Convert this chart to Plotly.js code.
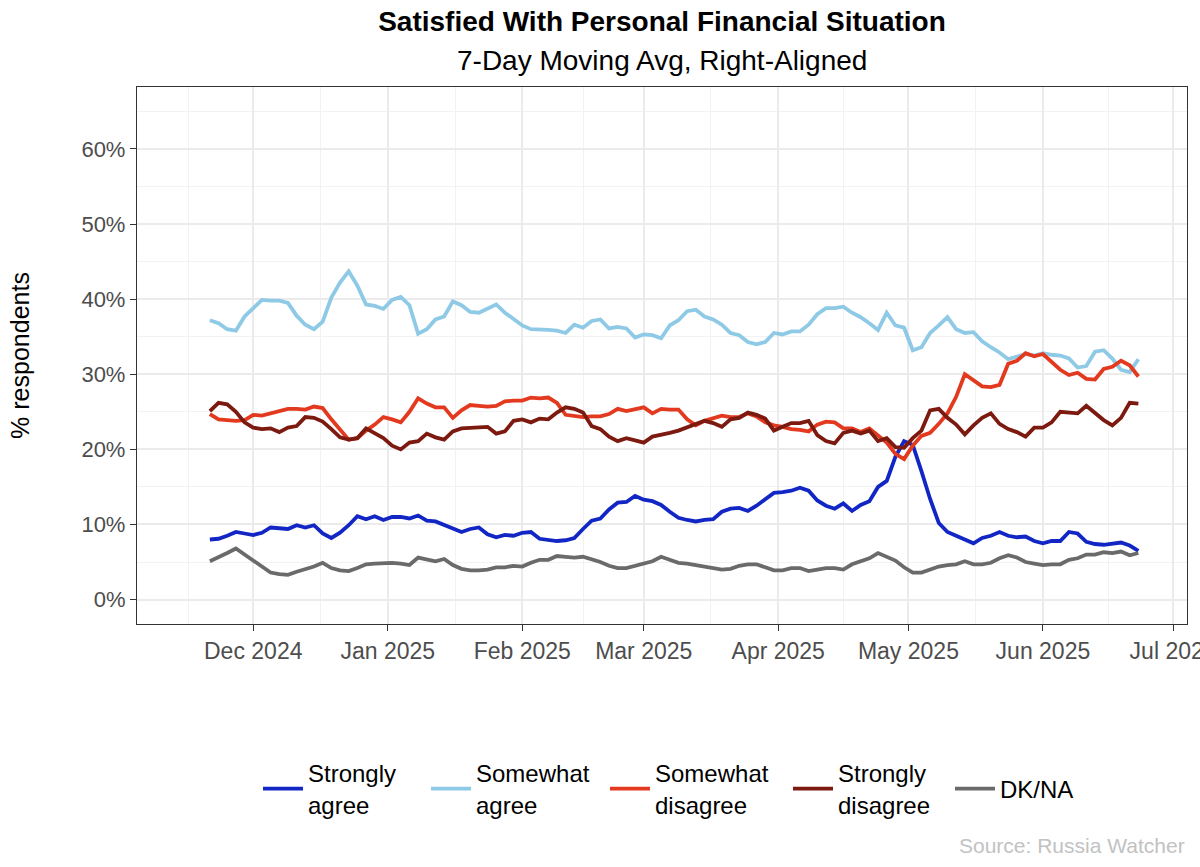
<!DOCTYPE html>
<html>
<head>
<meta charset="utf-8">
<script src="https://cdn.plot.ly/plotly-3.0.1.min.js"></script>
<style>
  html, body { margin: 0; padding: 0; background: #ffffff; }
  #chart { width: 1200px; height: 867px; }
</style>
</head>
<body>
<div id="chart"></div>
<script>
// Survey dates (every second day of the 7-day right-aligned moving average)
const dates = [
  '2024-11-21','2024-11-23','2024-11-25','2024-11-27','2024-11-29',
  '2024-12-01','2024-12-03','2024-12-05','2024-12-07','2024-12-09','2024-12-11','2024-12-13','2024-12-15',
  '2024-12-17','2024-12-19','2024-12-21','2024-12-23','2024-12-25','2024-12-27','2024-12-29','2024-12-31',
  '2025-01-02','2025-01-04','2025-01-06','2025-01-08','2025-01-10','2025-01-12','2025-01-14','2025-01-16',
  '2025-01-18','2025-01-20','2025-01-22','2025-01-24','2025-01-26','2025-01-28','2025-01-30',
  '2025-02-01','2025-02-03','2025-02-05','2025-02-07','2025-02-09','2025-02-11','2025-02-13','2025-02-15',
  '2025-02-17','2025-02-19','2025-02-21','2025-02-23','2025-02-25','2025-02-27',
  '2025-03-01','2025-03-03','2025-03-05','2025-03-07','2025-03-09','2025-03-11','2025-03-13','2025-03-15',
  '2025-03-17','2025-03-19','2025-03-21','2025-03-23','2025-03-25','2025-03-27','2025-03-29','2025-03-31',
  '2025-04-02','2025-04-04','2025-04-06','2025-04-08','2025-04-10','2025-04-12','2025-04-14','2025-04-16',
  '2025-04-18','2025-04-20','2025-04-22','2025-04-24','2025-04-26','2025-04-28','2025-04-30',
  '2025-05-02','2025-05-04','2025-05-06','2025-05-08','2025-05-10','2025-05-12','2025-05-14','2025-05-16',
  '2025-05-18','2025-05-20','2025-05-22','2025-05-24','2025-05-26','2025-05-28','2025-05-30',
  '2025-06-01','2025-06-03','2025-06-05','2025-06-07','2025-06-09','2025-06-11','2025-06-13','2025-06-15',
  '2025-06-17','2025-06-19','2025-06-21','2025-06-23'
];

// Share of respondents, %
const stronglyAgree = [
  8.0, 8.1, 8.5, 9.0, 8.8, 8.6, 8.9, 9.6, 9.5, 9.4, 9.9, 9.6, 9.9, 8.8, 8.2, 8.9, 9.9, 11.1, 10.7, 11.1, 10.6,
  11.0, 11.0, 10.8, 11.2, 10.5, 10.4, 9.9, 9.4, 9.0, 9.4, 9.6, 8.7, 8.3, 8.6, 8.5, 8.9, 9.0, 8.1, 7.9, 7.8, 7.9, 8.2, 9.4,
  10.5, 10.8, 12.0, 12.9, 13.0, 13.8, 13.3, 13.1, 12.6, 11.7, 10.9, 10.6, 10.4, 10.6, 10.7, 11.7, 12.1, 12.2, 11.8, 12.5, 13.4, 14.2,
  14.3, 14.5, 14.9, 14.5, 13.2, 12.5, 12.1, 12.8, 11.8, 12.6, 13.1, 15.0, 15.8, 19.0, 21.1, 20.6, 17.1, 13.4, 10.2, 9.0, 8.5, 8.0,
  7.5, 8.2, 8.5, 9.0, 8.5, 8.3, 8.4, 7.8, 7.5, 7.8, 7.8, 9.0, 8.8, 7.7, 7.4, 7.3, 7.4, 7.6, 7.2, 6.5
];
const somewhatAgree = [
  37.2, 36.8, 36.0, 35.8, 37.7, 38.8, 39.9, 39.8, 39.8, 39.5, 37.8, 36.6, 36.0, 37.0, 40.2, 42.2, 43.7, 41.8, 39.3, 39.1, 38.7,
  39.9, 40.3, 39.2, 35.4, 36.0, 37.3, 37.7, 39.7, 39.2, 38.3, 38.2, 38.8, 39.3, 38.2, 37.4, 36.5, 36.0, 36.0, 35.9, 35.8, 35.5, 36.6, 36.2,
  37.1, 37.3, 36.1, 36.3, 36.1, 34.9, 35.3, 35.2, 34.8, 36.5, 37.2, 38.4, 38.6, 37.7, 37.3, 36.6, 35.5, 35.2, 34.3, 34.0, 34.3, 35.5,
  35.3, 35.7, 35.7, 36.6, 38.0, 38.8, 38.8, 39.0, 38.2, 37.6, 36.8, 35.9, 38.2, 36.5, 36.2, 33.2, 33.6, 35.5, 36.5, 37.6, 36.0, 35.5,
  35.6, 34.4, 33.6, 32.9, 32.0, 32.3, 32.7, 32.5, 32.8, 32.6, 32.5, 32.1, 30.9, 31.1, 33.0, 33.2, 32.1, 30.6, 30.3, 32.0
];
const somewhatDisagree = [
  24.7, 24.0, 23.9, 23.8, 23.9, 24.6, 24.5, 24.8, 25.1, 25.4, 25.4, 25.3, 25.7, 25.5, 24.0, 22.7, 21.3, 21.5, 22.5, 23.3, 24.3,
  24.0, 23.6, 25.0, 26.8, 26.1, 25.6, 25.6, 24.2, 25.2, 25.9, 25.8, 25.7, 25.8, 26.4, 26.5, 26.5, 26.9, 26.8, 26.9, 26.2, 24.6, 24.4, 24.3,
  24.4, 24.4, 24.7, 25.4, 25.1, 25.3, 25.6, 24.8, 25.4, 25.3, 25.3, 24.0, 23.2, 23.8, 24.2, 24.5, 24.3, 24.3, 24.8, 24.4, 23.6, 23.2,
  23.0, 22.7, 22.6, 22.4, 23.3, 23.7, 23.6, 22.8, 22.8, 22.3, 22.8, 21.8, 20.9, 19.4, 18.7, 20.5, 21.8, 22.2, 23.4, 24.8, 27.0, 30.0,
  29.2, 28.4, 28.3, 28.6, 31.4, 31.8, 32.8, 32.4, 32.7, 31.6, 30.6, 29.9, 30.2, 29.4, 29.3, 30.7, 31.0, 31.8, 31.2, 29.7
];
const stronglyDisagree = [
  25.1, 26.2, 26.0, 25.0, 23.6, 22.9, 22.7, 22.8, 22.3, 22.9, 23.1, 24.3, 24.2, 23.7, 22.7, 21.6, 21.3, 21.5, 22.8, 22.1, 21.5,
  20.5, 20.0, 20.9, 21.1, 22.1, 21.6, 21.3, 22.4, 22.8, 22.9, 22.9, 23.0, 22.1, 22.4, 23.8, 24.0, 23.6, 24.1, 24.0, 24.9, 25.6, 25.4, 24.9,
  23.1, 22.7, 21.7, 21.1, 21.5, 21.2, 20.9, 21.7, 21.9, 22.2, 22.5, 22.9, 23.4, 23.8, 23.5, 23.0, 24.0, 24.2, 24.9, 24.6, 24.1, 22.5,
  23.0, 23.5, 23.5, 23.8, 21.9, 21.1, 20.8, 22.2, 22.5, 22.1, 22.5, 21.1, 21.5, 20.3, 20.2, 21.5, 22.5, 25.2, 25.4, 24.2, 23.3, 22.0,
  23.2, 24.2, 24.8, 23.4, 22.7, 22.3, 21.7, 22.9, 22.9, 23.6, 25.0, 24.9, 24.8, 25.8, 24.9, 23.9, 23.2, 24.2, 26.2, 26.1
];
const dkNa = [
  5.1, 5.6, 6.2, 6.8, 6.0, 5.2, 4.3, 3.6, 3.4, 3.3, 3.7, 4.0, 4.4, 4.9, 4.2, 3.9, 3.8, 4.2, 4.7, 4.8, 4.9,
  4.9, 4.8, 4.6, 5.6, 5.3, 5.1, 5.4, 4.6, 4.1, 3.9, 3.9, 4.0, 4.3, 4.3, 4.5, 4.4, 4.9, 5.3, 5.3, 5.8, 5.7, 5.6, 5.7,
  5.4, 5.0, 4.5, 4.2, 4.2, 4.5, 4.9, 5.1, 5.7, 5.3, 4.9, 4.8, 4.6, 4.5, 4.3, 4.0, 4.1, 4.5, 4.7, 4.7, 4.3, 3.9,
  3.9, 4.2, 4.2, 3.8, 4.0, 4.2, 4.2, 4.0, 4.7, 5.1, 5.5, 6.2, 5.7, 5.2, 4.3, 3.6, 3.6, 4.0, 4.4, 4.6, 4.7, 5.1,
  4.7, 4.7, 4.9, 5.5, 5.9, 5.6, 5.0, 4.8, 4.6, 4.7, 4.7, 5.3, 5.5, 6.0, 6.0, 6.3, 6.2, 6.4, 5.9, 6.2
];

const seriesNames = ['Strongly<br>agree', 'Somewhat<br>agree', 'Somewhat<br>disagree', 'Strongly<br>disagree', 'DK/NA'];
const seriesValues = [stronglyAgree, somewhatAgree, somewhatDisagree, stronglyDisagree, dkNa];
const seriesColors = ['#1126c4', '#8ecae6', '#e2391f', '#7c1a10', '#6a6a6a'];
// Room reserved for each legend label (0 = fit to text)
const legendWidths = [113, 124, 128, 107, 0];
// The single-line key sits in its own legend so it centres on the same row
const legendGroups = ['legend', 'legend', 'legend', 'legend', 'legend2'];

// Minor vertical grid lines sit halfway between month starts
const monthStarts = ['2024-11-01','2024-12-01','2025-01-01','2025-02-01','2025-03-01',
                     '2025-04-01','2025-05-01','2025-06-01','2025-07-01','2025-08-01'];
const midMonths = [];
for (let i = 0; i < monthStarts.length - 1; i++) {
  const t = (Date.parse(monthStarts[i]) + Date.parse(monthStarts[i + 1])) / 2;
  midMonths.push(new Date(t).toISOString().slice(0, 19).replace('T', ' '));
}

const traces = seriesNames.map((name, i) => {
  const tr = {
    type: 'scatter',
    mode: 'lines',
    name: name,
    x: dates,
    y: seriesValues[i],
    legend: legendGroups[i],
    line: { color: seriesColors[i], width: 3.8 },
    hovertemplate: '%{x|%b %d, %Y}: %{y:.1f}%<extra></extra>'
  };
  if (legendWidths[i]) tr.legendwidth = legendWidths[i];
  return tr;
});

const FONT = 'Liberation Sans, Arial, Helvetica, sans-serif';
const TICK_COLOR = '#4d4d4d';
const GRID = '#ebebeb';
const LEGEND_Y = 1 - 789 / 867;

const legendBase = {
  orientation: 'h',
  xref: 'container', xanchor: 'left',
  yref: 'container', y: LEGEND_Y, yanchor: 'middle',
  font: { family: FONT, size: 24, color: '#000000' },
  itemwidth: 40,
  traceorder: 'normal',
  bgcolor: 'rgba(0,0,0,0)'
};

const layout = {
  width: 1200,
  height: 867,
  paper_bgcolor: '#ffffff',
  plot_bgcolor: '#ffffff',
  font: { family: FONT, color: '#000000' },
  margin: { l: 137, r: 13, t: 87, b: 243, autoexpand: false },
  showlegend: true,
  title: {
    text: '<b>Satisfied With Personal Financial Situation</b>',
    font: { family: FONT, size: 28, color: '#000000' },
    xref: 'paper', x: 0.5, xanchor: 'center',
    yref: 'container', y: 1 - 21 / 867, yanchor: 'middle'
  },
  annotations: [
    {
      text: '7-Day Moving Avg, Right-Aligned',
      xref: 'paper', x: 0.5, xanchor: 'center',
      yref: 'paper', y: (624 - 60) / 537, yanchor: 'middle',
      showarrow: false,
      font: { family: FONT, size: 28, color: '#000000' }
    },
    {
      text: 'Source: Russia Watcher',
      xref: 'paper', x: 1, xanchor: 'right',
      yref: 'paper', y: (624 - 845) / 537, yanchor: 'middle',
      showarrow: false,
      font: { family: FONT, size: 21, color: '#c2c2c2' }
    }
  ],
  xaxis: {
    type: 'date',
    range: ['2024-11-04 05:00', '2025-07-04 05:00'],
    tick0: '2024-12-01',
    dtick: 'M1',
    tickformat: '%b %Y',
    ticks: 'outside', ticklen: 6, tickwidth: 1.3, tickcolor: '#333333',
    tickfont: { family: FONT, size: 23, color: TICK_COLOR },
    ticklabeloverflow: 'allow',
    showgrid: true, gridcolor: GRID, gridwidth: 1.6,
    minor: { tickmode: 'array', tickvals: midMonths, showgrid: true, gridcolor: '#f2f2f2', gridwidth: 1, ticks: '' },
    showline: true, linecolor: '#333333', linewidth: 1.3, mirror: true,
    zeroline: false, fixedrange: true
  },
  yaxis: {
    range: [-3.25, 68.25],
    tickmode: 'array',
    tickvals: [0, 10, 20, 30, 40, 50, 60],
    ticktext: ['0%', '10%', '20%', '30%', '40%', '50%', '60%'],
    ticks: 'outside', ticklen: 6, tickwidth: 1.3, tickcolor: '#333333',
    tickfont: { family: FONT, size: 22, color: TICK_COLOR },
    showgrid: true, gridcolor: GRID, gridwidth: 1.6,
    minor: { tickmode: 'linear', tick0: 5, dtick: 10, showgrid: true, gridcolor: '#f2f2f2', gridwidth: 1, ticks: '' },
    showline: true, linecolor: '#333333', linewidth: 1.3, mirror: true,
    zeroline: false, fixedrange: true,
    title: { text: '% respondents', font: { family: FONT, size: 25, color: '#000000' }, standoff: 44 }
  },
  legend: Object.assign({}, legendBase, { x: 258 / 1200 }),
  legend2: Object.assign({}, legendBase, { x: 950 / 1200 })
};

Plotly.newPlot('chart', traces, layout, { displayModeBar: false });
</script>
</body>
</html>
